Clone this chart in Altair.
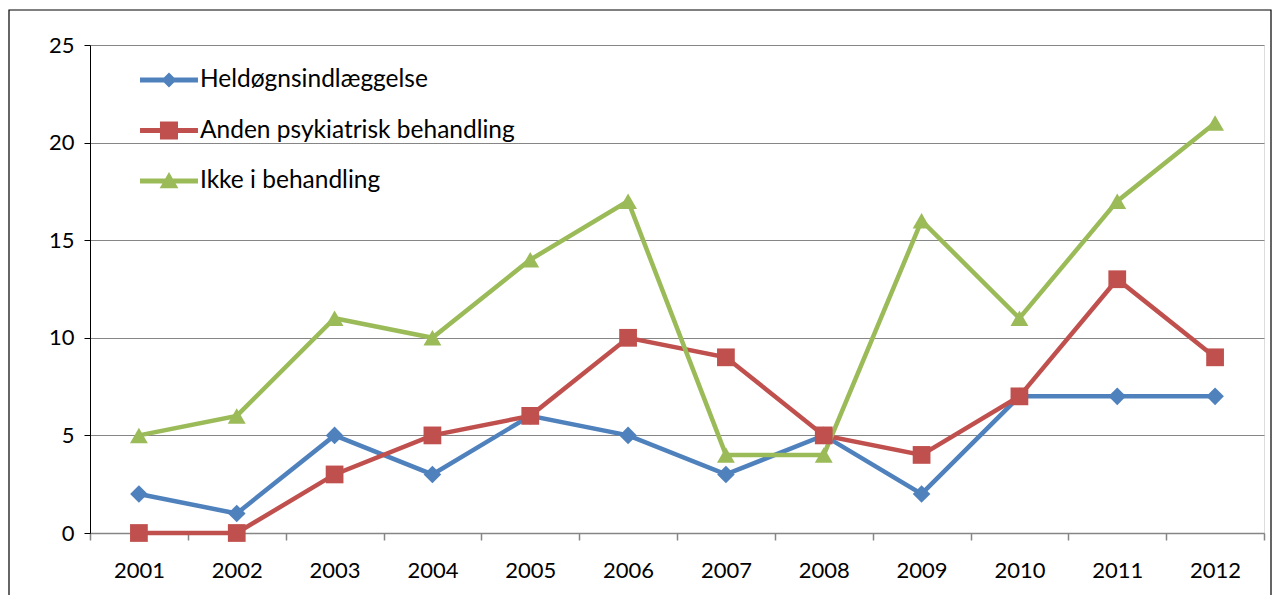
import altair as alt
import pandas as pd

years = ["2001", "2002", "2003", "2004", "2005", "2006", "2007", "2008", "2009", "2010", "2011", "2012"]
series = ["Heldøgnsindlæggelse", "Anden psykiatrisk behandling", "Ikke i behandling"]
heldogn = [2, 1, 5, 3, 6, 5, 3, 5, 2, 7, 7, 7]
anden = [0, 0, 3, 5, 6, 10, 9, 5, 4, 7, 13, 9]
ikke = [5, 6, 11, 10, 14, 17, 4, 4, 16, 11, 17, 21]
colors = ["#4F81BD", "#C0504D", "#9BBB59"]
y_ticks = [0, 5, 10, 15, 20, 25]

rows = []
for name, vals in zip(series, [heldogn, anden, ikke]):
    for yr, v in zip(years, vals):
        rows.append({"year": yr, "series": name, "value": v})
df = pd.DataFrame(rows)

FONT = "Lato"
FS = 22
LFS = 24.5

line_rect = "M-1.61,-0.14H1.61V0.14H-1.61Z"
legend_shapes = [
    line_rect + "M0,-0.42L0.42,0L0,0.42L-0.42,0Z",
    line_rect + "M-0.5,-0.5H0.5V0.5H-0.5Z",
    line_rect + "M0,-0.5L0.52,0.4H-0.52Z",
]

x_enc = alt.X("year:O", sort=years, scale=alt.Scale(paddingInner=0, paddingOuter=0),
              axis=alt.Axis(title=None, tickBand="extent", labelAngle=0, domainColor="#868686",
                            tickColor="#868686", tickSize=7, domainWidth=1.5, tickWidth=1.5,
                            labelPadding=20, labelFont=FONT, labelFontSize=FS, labelColor="black",
                            grid=False))
y_enc = alt.Y("value:Q", scale=alt.Scale(domain=[0, 25], nice=False),
              axis=alt.Axis(title=None, values=y_ticks, domainColor="black", tickColor="black",
                            tickSize=6, labelPadding=10, labelFont=FONT, labelFontSize=FS,
                            labelColor="black", grid=True, gridColor="#868686", gridWidth=1))

color_scale = alt.Scale(domain=series, range=colors)

base = alt.Chart(df)

lines = base.mark_line(strokeWidth=4.5).encode(
    x=x_enc, y=y_enc,
    color=alt.Color("series:N", scale=color_scale, legend=None),
    order=alt.Order("year:O"),
)

points = base.mark_point(filled=True, opacity=1).encode(
    x=x_enc, y=y_enc,
    color=alt.Color("series:N", scale=color_scale, legend=None),
    shape=alt.Shape("series:N", scale=alt.Scale(domain=series, range=["diamond", "square", "triangle-up"]), legend=None),
    size=alt.Size("series:N", scale=alt.Scale(domain=series, range=[310, 320, 420]), legend=None),
)

leg = alt.Legend(orient="none", legendX=61, legendY=17, title=None,
                 labelOffset=13, rowPadding=20.5, padding=0, symbolSize=1296,
                 symbolStrokeWidth=0, labelFont=FONT, labelFontSize=LFS, labelLimit=0,
                 labelColor="black", symbolOpacity=1, direction="vertical")

legend_layer = base.transform_filter("false").mark_point(filled=True, opacity=1, size=1296).encode(
    x=x_enc, y=y_enc,
    color=alt.Color("series:N", scale=color_scale, legend=leg),
    shape=alt.Shape("series:N", scale=alt.Scale(domain=series, range=legend_shapes), legend=leg),
)

frame = alt.Chart(pd.DataFrame({"a": [0]})).mark_rect(fill="transparent", stroke="black", strokeWidth=1.2).encode(
    x=alt.value(-81), x2=alt.value(1181), y=alt.value(-35), y2=alt.value(620)
)

chart = alt.layer(frame, lines, points, legend_layer).resolve_scale(
    color="independent", shape="independent", size="independent"
).properties(
    width=1174, height=488,
    autosize=alt.AutoSizeParams(type="none"),
    padding={"left": 82, "top": 37, "right": 8, "bottom": 62},
).configure_view(stroke=None).configure(background="white")

chart.save("out.html", embed_options={"renderer": "svg", "actions": False})
